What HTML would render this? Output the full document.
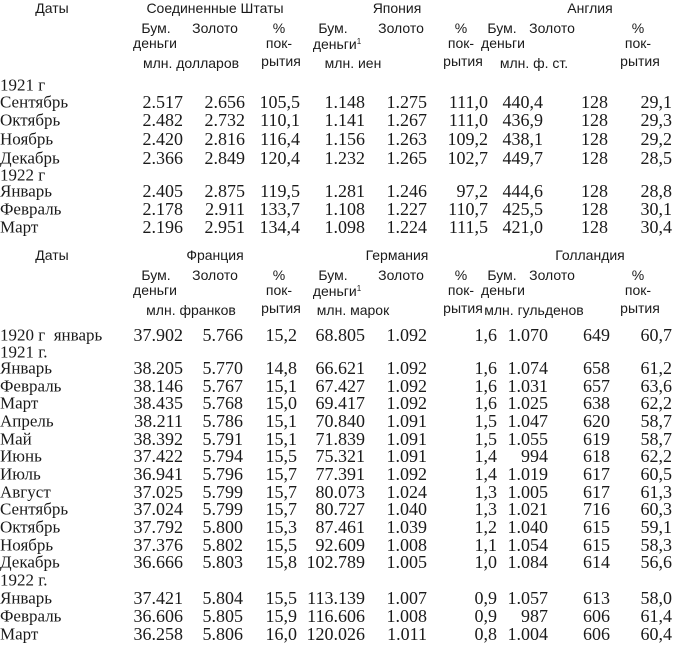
<!DOCTYPE html>
<html><head><meta charset="utf-8"><style>
html,body{margin:0;padding:0;background:#fff;}
body{width:673px;height:646px;position:relative;overflow:hidden;color:#1a1a1a;}
.h{position:absolute;font-family:"Liberation Sans",sans-serif;font-size:14px;line-height:14px;white-space:nowrap;transform:translate(-50%,-50%);}
.d{position:absolute;font-family:"Liberation Serif",serif;font-size:17px;line-height:17px;white-space:nowrap;transform:translateY(-50%);}
.r{position:absolute;font-family:"Liberation Serif",serif;font-size:18px;line-height:18px;white-space:nowrap;transform:translate(-100%,-50%);}
sup{font-size:8px;vertical-align:5px;}
</style></head><body>
<div id="c"></div>
<script>
(function(){
var cont=document.getElementById('c'),o='';
function h(x,y,t){o+='<div class="h" style="left:'+x+'px;top:'+y+'px">'+t+'</div>';}
function L(x,y,t){o+='<div class="d" style="left:'+x+'px;top:'+y+'px">'+t+'</div>';}
function R(x,y,t){o+='<div class="r" style="left:'+x+'px;top:'+y+'px">'+t+'</div>';}
function head(dy,a,b,cc,u1,u2,u3){
 h(52,8+dy,'Даты');h(215,8+dy,a);h(397,8+dy,b);h(590,8+dy,cc);
 h(156,28+dy,'Бум.');h(215,28+dy,'Золото');h(279,28+dy,'%');
 h(333,28+dy,'Бум.');h(401,28+dy,'Золото');h(461,28+dy,'%');
 h(502,28+dy,'Бум.');h(552,28+dy,'Золото');h(638,28+dy,'%');
 h(155,43+dy,'деньги');h(279,43+dy,'пок-');h(337,43+dy,'деньги<sup>1</sup>');h(461,43+dy,'пок-');h(503,43+dy,'деньги');h(638,43+dy,'пок-');
 h(191,63+dy,u1);h(281,61+dy,'рытия');h(353,63+dy,u2);h(463,61+dy,'рытия');h(534,63+dy,u3);h(640,61+dy,'рытия');
}
head(0,'Соединенные Штаты','Япония','Англия','млн. долларов','млн. иен','млн. ф. ст.');
head(247,'Франция','Германия','Голландия','млн. франков','млн. марок','млн. гульденов');
var X1=[183,245,300,365,427,488,543,608,672];
var TOPROWS=[['1921 г',85],['Сентябрь',102,'2.517 2.656 105,5 1.148 1.275 111,0 440,4 128 29,1'],
['Октябрь',120,'2.482 2.732 110,1 1.141 1.267 111,0 436,9 128 29,3'],
['Ноябрь',139,'2.420 2.816 116,4 1.156 1.263 109,2 438,1 128 29,2'],
['Декабрь',158,'2.366 2.849 120,4 1.232 1.265 102,7 449,7 128 28,5'],
['1922 г',175],
['Январь',191,'2.405 2.875 119,5 1.281 1.246 97,2 444,6 128 28,8'],
['Февраль',209,'2.178 2.911 133,7 1.108 1.227 110,7 425,5 128 30,1'],
['Март',227,'2.196 2.951 134,4 1.098 1.224 111,5 421,0 128 30,4']];
var X2=[183,243,297,365,427,497,548,610,672];
var BOTROWS=[['1920 г&nbsp; январь',335,'37.902 5.766 15,2 68.805 1.092 1,6 1.070 649 60,7'],['1921 г.',352],
['Январь',368,'38.205 5.770 14,8 66.621 1.092 1,6 1.074 658 61,2'],
['Февраль',386,'38.146 5.767 15,1 67.427 1.092 1,6 1.031 657 63,6'],
['Март',403,'38.435 5.768 15,0 69.417 1.092 1,6 1.025 638 62,2'],
['Апрель',421,'38.211 5.786 15,1 70.840 1.091 1,5 1.047 620 58,7'],
['Май',439,'38.392 5.791 15,1 71.839 1.091 1,5 1.055 619 58,7'],
['Июнь',456,'37.422 5.794 15,5 75.321 1.091 1,4 994 618 62,2'],
['Июль',474,'36.941 5.796 15,7 77.391 1.092 1,4 1.019 617 60,5'],
['Август',492,'37.025 5.799 15,7 80.073 1.024 1,3 1.005 617 61,3'],
['Сентябрь',509,'37.024 5.799 15,7 80.727 1.040 1,3 1.021 716 60,3'],
['Октябрь',527,'37.792 5.800 15,3 87.461 1.039 1,2 1.040 615 59,1'],
['Ноябрь',545,'37.376 5.802 15,5 92.609 1.008 1,1 1.054 615 58,3'],
['Декабрь',562,'36.666 5.803 15,8 102.789 1.005 1,0 1.084 614 56,6'],
['1922 г.',580],
['Январь',598,'37.421 5.804 15,5 113.139 1.007 0,9 1.057 613 58,0'],
['Февраль',616,'36.606 5.805 15,9 116.606 1.008 0,9 987 606 61,4'],
['Март',634,'36.258 5.806 16,0 120.026 1.011 0,8 1.004 606 60,4']];
function rows(a,X){a.forEach(function(r){L(0,r[1],r[0]);if(r[2]){r[2].split(' ').forEach(function(v,i){R(X[i],r[1],v);});}});}
rows(TOPROWS,X1);rows(BOTROWS,X2);
cont.innerHTML=o;
})();
</script>
</body></html>
